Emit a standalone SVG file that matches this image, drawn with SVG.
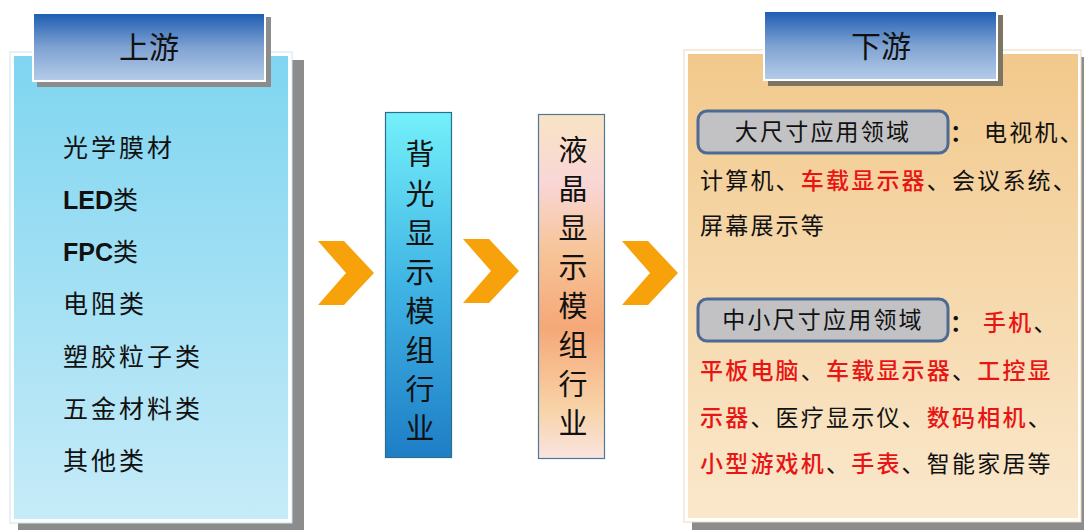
<svg xmlns="http://www.w3.org/2000/svg" width="1084" height="530" viewBox="0 0 1084 530">
<defs>
<linearGradient id="gLeft" x1="0" y1="0" x2="0" y2="1"><stop offset="0" stop-color="#7fd5f0"/><stop offset="1" stop-color="#c6ebf8"/></linearGradient>
<linearGradient id="gRight" x1="0" y1="0" x2="0" y2="1"><stop offset="0" stop-color="#f2c98c"/><stop offset="1" stop-color="#fae8cc"/></linearGradient>
<linearGradient id="gTitle" x1="0" y1="0" x2="0" y2="1"><stop offset="0" stop-color="#1f5eb2"/><stop offset="0.5" stop-color="#7ea2d2"/><stop offset="1" stop-color="#b4cbe8"/></linearGradient>
<linearGradient id="gBack" x1="0" y1="0" x2="0" y2="1"><stop offset="0" stop-color="#74f0fa"/><stop offset="0.5" stop-color="#40b4e4"/><stop offset="1" stop-color="#1e7ec6"/></linearGradient>
<linearGradient id="gLcd" x1="0" y1="0" x2="0" y2="1"><stop offset="0" stop-color="#f8e4c4"/><stop offset="0.2" stop-color="#f9d6d6"/><stop offset="0.4" stop-color="#f7c498"/><stop offset="0.62" stop-color="#f5a878"/><stop offset="0.85" stop-color="#f8d2a6"/><stop offset="1" stop-color="#fae4e0"/></linearGradient>
<polygon id="chev" points="0,0 26,0 56,32 26,64 0,64 28,32"/>
</defs>
<style>
.cn{font-family:"Noto Sans CJK SC","Liberation Sans",sans-serif;fill:#111}
.lt{font-size:25px;letter-spacing:3px}
.rt{font-size:23px;letter-spacing:2.2px}
.red{fill:#e81515;font-weight:500}
.ttl{font-size:30px;text-anchor:middle}
.vt{font-size:29px;text-anchor:middle}
.shadow{fill:#8c8c8c}
.tag{fill:#c2c2c4;stroke:#4d6a92;stroke-width:3}
</style>
<rect width="1084" height="530" fill="#ffffff"/>

<g id="upstream">
<rect class="shadow" x="18" y="60" width="286" height="470"/>
<rect x="10" y="52" width="282" height="471" fill="#ffffff" stroke="#c9e6f2" stroke-width="1"/>
<rect x="14" y="56" width="274" height="463" fill="url(#gLeft)"/>
<g id="upstream-title">
<rect class="shadow" x="37" y="17" width="234" height="70" fill="#5f7a86"/>
<rect x="32" y="12" width="234" height="70" fill="#ffffff"/>
<rect x="34" y="14" width="230" height="66" fill="url(#gTitle)"/>
<text class="cn ttl" x="149" y="58">上游</text>
</g>
<text class="cn lt" x="63" y="157">光学膜材</text>
<text class="cn lt" x="63" y="209"><tspan font-family="Liberation Sans, sans-serif" font-weight="bold" letter-spacing="0">LED</tspan>类</text>
<text class="cn lt" x="63" y="261"><tspan font-family="Liberation Sans, sans-serif" font-weight="bold" letter-spacing="0">FPC</tspan>类</text>
<text class="cn lt" x="63" y="313">电阻类</text>
<text class="cn lt" x="63" y="366">塑胶粒子类</text>
<text class="cn lt" x="63" y="418">五金材料类</text>
<text class="cn lt" x="63" y="470">其他类</text>
</g>

<g id="connectors" fill="#f7a20a">
<use href="#chev" x="318" y="241"/>
<use href="#chev" x="463" y="239"/>
<use href="#chev" x="622" y="241"/>
</g>

<g id="backlight">
<rect x="385.5" y="112.5" width="66" height="345" fill="url(#gBack)" stroke="#2f6d8e" stroke-width="1.2"/>
<text class="cn vt" x="420" y="165">背</text>
<text class="cn vt" x="420" y="205">光</text>
<text class="cn vt" x="420" y="244">显</text>
<text class="cn vt" x="420" y="283">示</text>
<text class="cn vt" x="420" y="322">模</text>
<text class="cn vt" x="420" y="361">组</text>
<text class="cn vt" x="420" y="400">行</text>
<text class="cn vt" x="420" y="439">业</text>
</g>

<g id="lcd">
<rect x="538.5" y="114.5" width="66" height="344" fill="url(#gLcd)" stroke="#4f7898" stroke-width="1.2"/>
<text class="cn vt" x="573" y="161">液</text>
<text class="cn vt" x="573" y="200">晶</text>
<text class="cn vt" x="573" y="239">显</text>
<text class="cn vt" x="573" y="278">示</text>
<text class="cn vt" x="573" y="317">模</text>
<text class="cn vt" x="573" y="356">组</text>
<text class="cn vt" x="573" y="395">行</text>
<text class="cn vt" x="573" y="434">业</text>
</g>

<g id="downstream">
<rect class="shadow" x="692" y="57" width="392" height="473"/>
<rect x="684" y="50" width="397" height="472" fill="#ffffff" stroke="#f0d8b8" stroke-width="1"/>
<rect x="688" y="54" width="390" height="464" fill="url(#gRight)"/>
<g id="downstream-title">
<rect x="768" y="15" width="235" height="71" fill="#7d7462"/>
<rect x="763" y="10" width="235" height="71" fill="#ffffff"/>
<rect x="765" y="12" width="231" height="67" fill="url(#gTitle)"/>
<text class="cn ttl" x="881" y="57">下游</text>
</g>
<g id="large">
<rect class="tag" x="698" y="111" width="250" height="42" rx="9"/>
<text class="cn rt" x="823" y="140" text-anchor="middle" font-size="24">大尺寸应用领域</text>
<text class="cn rt" x="950" y="141" font-weight="bold">：</text>
<text class="cn rt" x="984" y="141" letter-spacing="4">电视机、</text>
<text class="cn rt" x="700" y="189">计算机、<tspan class="red">车载显示器</tspan>、会议系统、</text>
<text class="cn rt" x="700" y="234">屏幕展示等</text>
</g>
<g id="small">
<rect class="tag" x="698" y="299" width="250" height="42" rx="9"/>
<text class="cn rt" x="823" y="328" text-anchor="middle" font-size="24">中小尺寸应用领域</text>
<text class="cn rt" x="950" y="331" font-weight="bold">：</text>
<text class="cn rt" x="983" y="331" letter-spacing="4"><tspan class="red">手机</tspan>、</text>
<text class="cn rt" x="700" y="379"><tspan class="red">平板电脑</tspan>、<tspan class="red">车载显示器</tspan>、<tspan class="red">工控显</tspan></text>
<text class="cn rt" x="700" y="426"><tspan class="red">示器</tspan>、医疗显示仪、<tspan class="red">数码相机</tspan>、</text>
<text class="cn rt" x="700" y="472"><tspan class="red">小型游戏机</tspan>、<tspan class="red">手表</tspan>、智能家居等</text>
</g>
</g>
</svg>
